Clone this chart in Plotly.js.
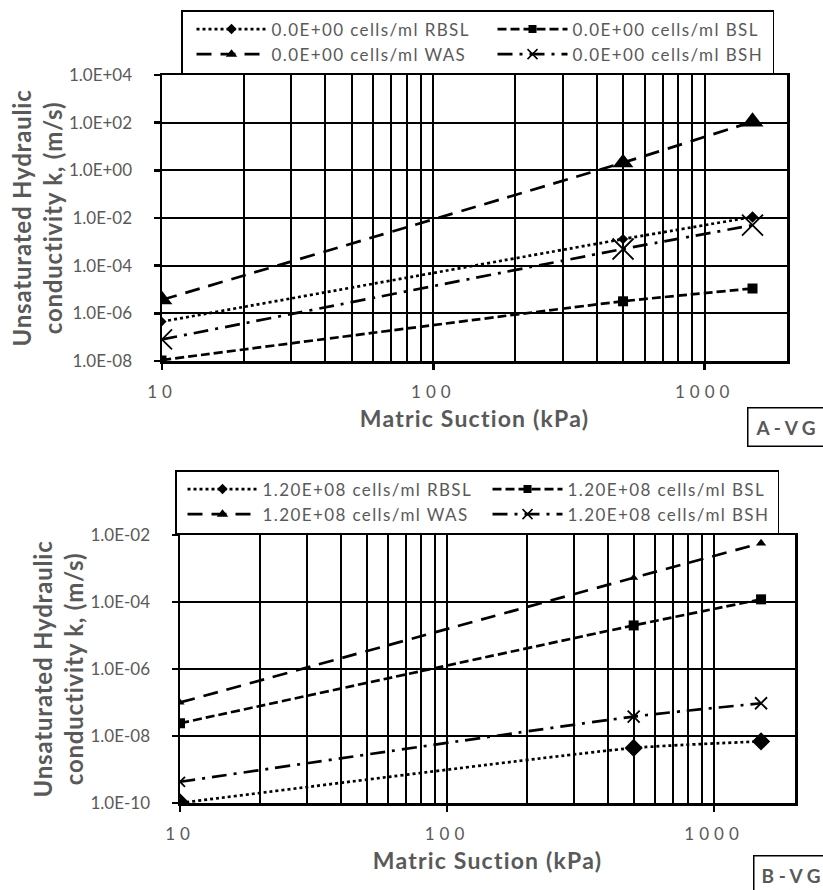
<!DOCTYPE html>
<html><head><meta charset="utf-8">
<script src="https://cdn.plot.ly/plotly-3.0.1.min.js"></script>
<style>
html,body{margin:0;padding:0;background:#fff;}
.xtick text, .x2tick text { letter-spacing: 5px; }
.legend text, .legend2 text, text.legendtext { letter-spacing: 1.4px; }
.xtitle, .x2title { letter-spacing: 1.2px; }
.ytitle, .y2title { letter-spacing: 0.8px; }
</style>
</head><body><div id="chart" style="width:823px;height:890px;"></div>
<script>
// ---------- data ----------
const suction = [10, 500, 1500];               // matric suction (kPa)

// Panel A : 0.0E+00 cells/ml
const aRBSL = [4.5e-7, 1.3e-3, 1.1e-2];
const aBSL  = [1.1e-8, 3.2e-6, 1.1e-5];
const aWAS  = [3.7e-6, 2.1, 110];
const aBSH  = [8.0e-8, 5.0e-4, 5.0e-3];

// Panel B : 1.20E+08 cells/ml
const bRBSL = [1.0e-10, 4.4e-9, 6.9e-9];
const bBSL  = [2.4e-8, 2.0e-5, 1.2e-4];
const bWAS  = [1.0e-7, 5.3e-4, 5.7e-3];
const bBSH  = [4.3e-10, 3.8e-8, 9.5e-8];

const aLegendNames = ['0.0E+00 cells/ml RBSL', '0.0E+00 cells/ml BSL', '0.0E+00 cells/ml WAS', '0.0E+00 cells/ml BSH'];
const bLegendNames = ['1.20E+08 cells/ml RBSL', '1.20E+08 cells/ml BSL', '1.20E+08 cells/ml WAS', '1.20E+08 cells/ml BSH'];

const xTickVals = [10, 100, 1000];
const xTickText = ['10', '100', '1000'];
const xMinorVals = [20, 30, 40, 50, 60, 70, 80, 90, 200, 300, 400, 500, 600, 700, 800, 900];

const aYTickVals = [1e-8, 1e-6, 1e-4, 1e-2, 1e0, 1e2, 1e4];
const aYTickText = ['1.0E-08', '1.0E-06', '1.0E-04', '1.0E-02', '1.0E+00', '1.0E+02', '1.0E+04'];
const bYTickVals = [1e-10, 1e-8, 1e-6, 1e-4, 1e-2];
const bYTickText = ['1.0E-10', '1.0E-08', '1.0E-06', '1.0E-04', '1.0E-02'];

const xTitle = 'Matric Suction (kPa)';
const yTitle = 'Unsaturated Hydraulic<br>conductivity k, (m/s)';
const panelLabels = ['A - V G', 'B - V G'];

// ---------- styles ----------
const styleList = [
  {dash: '3px,3px',          symbol: 'diamond'},
  {dash: '9px,4px',          symbol: 'square'},
  {dash: '15px,9px',         symbol: 'triangle-up'},
  {dash: '15px,7px,3px,7px', symbol: 'x-thin-open'}
];
const aSizes = [[7, 8, 9], [9, 10, 10], [18, 18, 19], [20, 21, 21]];
const bSizes = [[15, 14, 14], [10, 10, 10], [8, 8, 9], [10, 12, 12]];
const legendSizes = [8, 8, 10, 10];
const aColWidths = [207, 195, 207, 195];   // legend entry widths (left / right column)
const bColWidths = [214, 205, 214, 205];

const aSeries = [aRBSL, aBSL, aWAS, aBSH];
const bSeries = [bRBSL, bBSL, bWAS, bBSH];

const traces = [];
function addPanel(series, names, sizes, colWidths, xa, ya, legendId) {
  series.forEach((vals, i) => {
    const st = styleList[i];
    const isX = st.symbol.startsWith('x');
    traces.push({
      type: 'scatter', mode: 'lines+markers',
      x: suction, y: vals, xaxis: xa, yaxis: ya,
      showlegend: false, hoverinfo: 'x+y',
      line: {color: 'black', width: 2.7, dash: st.dash, shape: 'spline', smoothing: 0.5},
      marker: {symbol: st.symbol, size: sizes[i], color: 'black', opacity: 1,
               line: {color: 'black', width: isX ? 1.8 : 0}}
    });
  });
  series.forEach((vals, i) => {
    const st = styleList[i];
    const isX = st.symbol.startsWith('x');
    traces.push({
      type: 'scatter', mode: 'lines+markers',
      x: [null], y: [null], xaxis: xa, yaxis: ya,
      name: names[i], legend: legendId, showlegend: true, legendwidth: colWidths[i],
      line: {color: 'black', width: 2.7, dash: st.dash},
      marker: {symbol: st.symbol, size: legendSizes[i], color: 'black', opacity: 1,
               line: {color: 'black', width: isX ? 1.5 : 0}}
    });
  });
}
addPanel(aSeries, aLegendNames, aSizes, aColWidths, 'x', 'y', 'legend');
addPanel(bSeries, bLegendNames, bSizes, bColWidths, 'x2', 'y2', 'legend2');

const W = 823, H = 890;
const grey = '#595959';
const FAM = 'Lato, "Open Sans", sans-serif';
const tickFont = {family: FAM, size: 17, color: grey};

function xAxis(domain, anchor, standoff) {
  return {
    type: 'log', range: [1, Math.log10(2010)], domain: domain, anchor: anchor,
    tickmode: 'array', tickvals: xTickVals, ticktext: xTickText,
    ticks: 'outside', ticklen: 6, tickwidth: 2.5, tickcolor: 'black',
    showgrid: true, gridcolor: 'black', gridwidth: 2,
    minor: {tickmode: 'array', tickvals: xMinorVals, showgrid: true, gridcolor: 'black', gridwidth: 2, ticks: ''},
    showline: true, linecolor: 'black', linewidth: 2.5, mirror: true,
    zeroline: false, tickfont: tickFont, ticklabelstandoff: standoff,
    title: {text: xTitle, font: {family: FAM, size: 23, color: grey, weight: 'bold'}, standoff: 10},
    automargin: false, fixedrange: true
  };
}
function yAxis(domain, anchor, range, vals, text) {
  return {
    type: 'log', range: range, domain: domain, anchor: anchor,
    tickmode: 'array', tickvals: vals, ticktext: text,
    ticks: 'outside', ticklen: 6, tickwidth: 2.5, tickcolor: 'black',
    showgrid: true, gridcolor: 'black', gridwidth: 2,
    showline: true, linecolor: 'black', linewidth: 2.5, mirror: true,
    zeroline: false, tickfont: tickFont, ticklabelstandoff: 18,
    title: {text: yTitle, font: {family: FAM, size: 24, color: grey, weight: 'bold'}, standoff: 0},
    automargin: false, fixedrange: true
  };
}

const legendBase = {
  orientation: 'h', xanchor: 'left', yanchor: 'top',
  entrywidth: 203, entrywidthmode: 'pixels', itemwidth: 70,
  bordercolor: 'black', borderwidth: 1.5, bgcolor: 'white',
  font: {family: FAM, size: 17, color: grey},
  itemclick: false, itemdoubleclick: false
};

const panelFont = {family: FAM, size: 19, color: grey};

const layout = {
  width: W, height: H,
  margin: {l: 0, r: 0, t: 0, b: 0},
  paper_bgcolor: 'white', plot_bgcolor: 'white',
  font: {family: FAM, color: grey},
  xaxis:  xAxis([162 / W, 787 / W], 'y', 8),
  yaxis:  yAxis([1 - 361 / H, 1 - 75 / H], 'x', [-8, 4], aYTickVals, aYTickText),
  xaxis2: xAxis([180 / W, 795 / W], 'y2', 8),
  yaxis2: yAxis([1 - 803 / H, 1 - 535 / H], 'x2', [-10, -2], bYTickVals, bYTickText),
  legend:  Object.assign({}, legendBase, {x: 181 / W, y: 1 - 10 / H, indentation: 9}),
  legend2: Object.assign({}, legendBase, {x: 175 / W, y: 1 - 470 / H, indentation: 6}),
  annotations: [
    {text: '<b>' + panelLabels[0] + '</b>', xref: 'paper', yref: 'paper',
     x: 747 / W, y: 1 - 407 / H, xanchor: 'left', yanchor: 'top', showarrow: false, width: 90,
     font: panelFont, bordercolor: 'black', borderwidth: 1.5, borderpad: 7, bgcolor: 'white', align: 'left'},
    {text: '<b>' + panelLabels[1] + '</b>', xref: 'paper', yref: 'paper',
     x: 753 / W, y: 1 - 855 / H, xanchor: 'left', yanchor: 'top', showarrow: false, width: 90,
     font: panelFont, bordercolor: 'black', borderwidth: 1.5, borderpad: 7, bgcolor: 'white', align: 'left'}
  ]
};

Plotly.newPlot('chart', traces, layout, {displayModeBar: false, staticPlot: true});
</script>
</body></html>
